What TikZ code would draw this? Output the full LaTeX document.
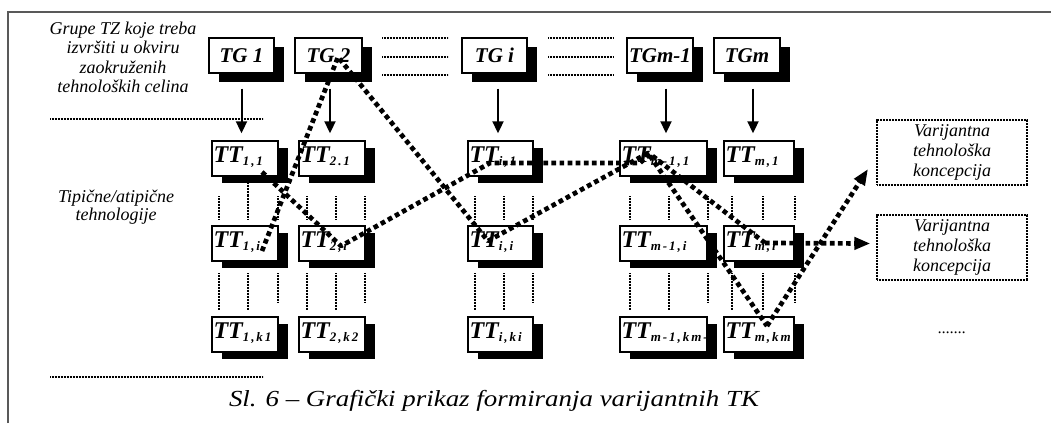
\documentclass[tikz,border=0pt]{standalone}
\usepackage{graphicx}
\usepackage{fontspec}
\setmainfont{Liberation Serif}
\newfontfamily\subsfont[LetterSpace=15]{Liberation Serif}
\usetikzlibrary{arrows.meta,shadows,calc}

% TT label with a spaced, lowered index
\newcommand\ttl[1]{TT\raisebox{-3pt}{\subsfont\fontsize{13}{13}\selectfont\bfseries\itshape #1}}

\tikzset{
  frameline/.style={draw=black!65, line width=1.3pt},
  fineline/.style={line width=1.2pt, dash pattern=on 0.9pt off 0.6pt},
  tgbox/.style={draw, line width=1.4pt, fill=white, inner sep=0pt,
    minimum height=35pt, text height=24pt, text depth=11pt,
    font=\fontsize{21}{21}\selectfont\bfseries\itshape,
    general shadow={fill=black, shadow xshift=10pt, shadow yshift=-9pt}},
  ttbox/.style={draw, line width=1.4pt, fill=white, inner xsep=1.5pt, inner ysep=0pt,
    text height=21pt, text depth=14pt, align=left,
    font=\fontsize{24}{24}\selectfont\bfseries\itshape,
    general shadow={fill=black, shadow xshift=10pt, shadow yshift=-7pt}},
  varbox/.style={draw, line width=1.3pt, dash pattern=on 0.9pt off 0.6pt,
    minimum width=150pt, minimum height=65pt, align=center,
    font=\fontsize{18}{20}\selectfont\itshape},
  sidetext/.style={align=center, font=\fontsize{18}{19.5}\selectfont\itshape},
  downarrow/.style={line width=2pt, -{Triangle[length=12pt,width=11pt]}},
  route/.style={line width=4.7pt, dash pattern=on 4.7pt off 3.4pt, line join=round},
  routetip/.style={-{Triangle[length=16pt,width=12pt]}}
}

\begin{document}
\begin{tikzpicture}[x=1pt,y=-1pt]
\useasboundingbox (0,0) rectangle (1051,423);

% frame
\draw[frameline] (8,423) -- (8,12) -- (1051,12);

% side captions
\node[sidetext] (grp) at (123,57.5) {Grupe TZ koje treba\\izvršiti u okviru\\zaokruženih\\tehnoloških celina};
\node[sidetext, font=\fontsize{18}{18.5}\selectfont\itshape] (tip) at (116,207) {Tipične/atipične\\tehnologije};
\draw[fineline] (50,119) -- (263,119);
\draw[fineline] (50,377) -- (263,377);

% groups of tasks
\node[tgbox, minimum width=65pt] (tg1) at (241.5,55.5) {TG 1};
\node[tgbox, minimum width=67pt] (tg2) at (328.5,55.5) {TG 2};
\node[tgbox, minimum width=65pt] (tgi) at (494.5,55.5) {TG i};
\node[tgbox, minimum width=66pt] (tgm1) at (660,55.5) {TGm-1};
\node[tgbox, minimum width=66pt] (tgm) at (747,55.5) {TGm};

\foreach \y in {38,57,75} {
  \draw[fineline] (382,\y) -- (448,\y);
  \draw[fineline] (548,\y) -- (613,\y);
}

% technologies
\node[ttbox, text width=63pt] (t11) at (245,158.5) {\ttl{1,1}};
\node[ttbox, text width=63pt] (t21) at (332,158.5) {\ttl{2.1}};
\node[ttbox, text width=62pt] (ti1) at (500.5,158.5) {\ttl{i,1}};
\node[ttbox, text width=84pt] (tm11) at (663.5,158.5) {\ttl{m-1,1}};
\node[ttbox, text width=67pt] (tm1) at (759,158.5) {\ttl{m,1}};

\node[ttbox, text width=63pt] (t1i) at (245,243.5) {\ttl{1,i}};
\node[ttbox, text width=63pt] (t2i) at (332,243.5) {\ttl{2,i}};
\node[ttbox, text width=62pt] (tii) at (500.5,243.5) {\ttl{i,i}};
\node[ttbox, text width=84pt] (tm1i) at (663.5,243.5) {\ttl{m-1,i}};
\node[ttbox, text width=67pt] (tmi) at (759,243.5) {\ttl{m,i}};

\node[ttbox, text width=63pt] (t1k) at (245,334.5) {\ttl{1,k1}};
\node[ttbox, text width=63pt] (t2k) at (332,334.5) {\ttl{2,k2}};
\node[ttbox, text width=62pt] (tik) at (500.5,334.5) {\ttl{i,ki}};
\node[ttbox, text width=84pt] (tm1k) at (663.5,334.5) {\ttl{m-1,km-}};
\node[ttbox, text width=67pt] (tmk) at (759,334.5) {\ttl{m,km}};

% arrows from groups to first technologies
\foreach \g/\t/\dx in {tg1/t11/0, tg2/t21/1.5, tgi/ti1/3.5, tgm1/tm11/6, tgm/tm1/6} {
  \coordinate (s) at ($(\g.south)+(\dx,15)$);
  \coordinate (e) at ($(\t.north)+(0,-7)$);
  \draw[downarrow] (s) -- (s |- e);
}

% dotted separators between rows
\foreach \a/\b/\c in {219/248/278, 307/336/365, 475/504/533, 630/669/708, 732/763/795} {
  \draw[fineline] (\a,196) -- (\a,219);
  \draw[fineline] (\b,196) -- (\b,219);
  \draw[fineline] (\c,196) -- (\c,219);
  \draw[fineline] (\a,273) -- (\a,310);
  \draw[fineline] (\b,273) -- (\b,310);
  \draw[fineline] (\c,273) -- (\c,302);
}
\draw[fineline] (248,183) -- (248,196);

% resulting concepts
\node[varbox] (var1) at (952,152.5) {Varijantna\\tehnološka\\koncepcija};
\node[varbox] (var2) at (952,247.5) {Varijantna\\tehnološka\\koncepcija};
\node[font=\fontsize{16}{16}\selectfont\itshape] (more) at (952,333) {.......};

% turning points of the two routes
\coordinate (a0) at (262,172);
\coordinate (a1) at (341,246);
\coordinate (a2) at (490,163);
\coordinate (a3) at (640,163);
\coordinate (a4) at (650,154);
\coordinate (a5) at (765,243);
\coordinate (b0) at (262,251);
\coordinate (b1) at (338,57);
\coordinate (b2) at (488,241);
\coordinate (b3) at (648,153);
\coordinate (b4) at (767,326);
\coordinate (b5) at (868,169);

\draw[route] (a0) -- (a1) -- (a2) -- (a3) -- (a4) -- (a5);
\draw[route, routetip] (a5) -- ($(var2.west)+(-6,-4)$);
\draw[route] (b0) -- (b1) -- (b2) -- (b3) -- (b4);
\draw[route, routetip] (b4) -- (b5);

% figure caption, set slightly wide
\node[font=\fontsize{23}{23}\selectfont\itshape] (cap) at (494,401) {\scalebox{1.17}[1]{Sl. 6 – Grafički prikaz formiranja varijantnih TK}};
\end{tikzpicture}
\end{document}
